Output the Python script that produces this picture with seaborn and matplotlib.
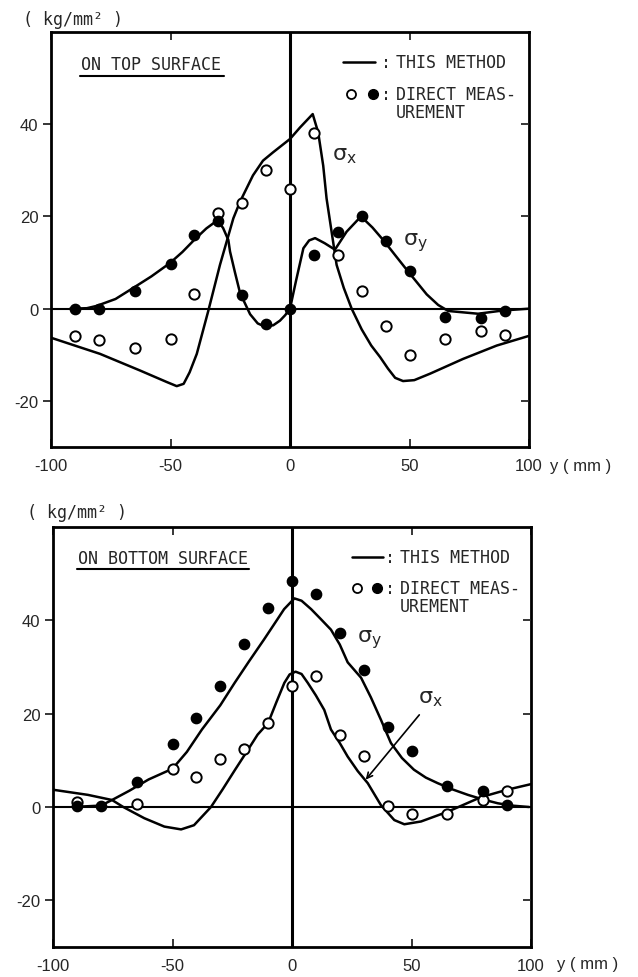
import numpy as np
import pandas as pd
import matplotlib
matplotlib.use("Agg")
import matplotlib.pyplot as plt
import seaborn as sns

sns.set_style("white")
plt.rcParams['axes.unicode_minus'] = False
plt.rcParams['font.family'] = ['Liberation Sans', 'DejaVu Sans']
plt.rcParams['mathtext.fontset'] = 'dejavusans'

# ---------------- data: top surface ----------------
pts_x = [-90, -80, -65, -50, -40, -30, -20, -10, 0, 10, 20, 30, 40, 50, 65, 80, 90]
top_sy_meas = [0, 0, 3.9, 9.7, 16, 19, 3, -3.4, 0, 11.6, 16.7, 20, 14.6, 8.2, -1.7, -2.1, -0.4]
top_sx_meas = [-5.9, -6.8, -8.6, -6.5, 3.1, 20.8, 23, 30, 26, 38, 11.7, 3.8, -3.7, -10, -6.6, -4.8, -5.7]

top_sx_curve_x = [-100, -79.5, -62.8, -51.6, -47.4, -44.5, -42, -39, -34.2, -29.3, -23.7, -20.9, -15.5,
                  -11.3, -7.1, 0, 4.2, 9.5, 11.8, 13.9, 15.3, 17.4, 19.5, 22.5, 25.8, 30, 34,
                  37.7, 41, 44, 47.3, 52, 58.6, 72.4, 86.5, 100]
top_sx_curve_y = [-6.3, -9.8, -13.4, -15.9, -16.8, -16.3, -13.8, -9.8, -0.5, 9.5, 19.6, 23.2, 28.9,
                  32.1, 33.9, 36.8, 39.3, 42.2, 38.2, 31, 23.9, 16.7, 9.5, 4.5, 0, -4.5, -8,
                  -10.5, -13, -15, -15.7, -15.5, -14.1, -10.9, -8, -5.9]

top_sy_curve_x = [-92, -85, -80.9, -73, -65.6, -58, -50.2, -45, -40.1, -35, -32.1, -30.4, -28,
                  -25.8, -25.1, -23, -20.9, -16.7, -13.5, -10.5, -7, -4.2, -2, 0, 2.5, 5.6,
                  8, 10.5, 14.5, 18.8, 23.7, 29.7, 34.5, 39.3, 44, 49.2, 57.2, 62, 66.2,
                  78.7, 89, 100]
top_sy_curve_y = [0, 0.1, 0.6, 2.1, 4.5, 7, 9.9, 12.3, 14.9, 17.4, 18.5, 19.2, 17.5,
                  14.9, 12.4, 7.8, 3.4, -1.2, -3.2, -3.9, -3.6, -2.6, -1.4, 0, 6, 13.1,
                  14.8, 15.3, 14.2, 12.8, 16.7, 20, 17.6, 14.7, 11.6, 8.2, 3.1, 0.8, -0.5,
                  -1.1, -0.4, 0]

# ---------------- data: bottom surface ----------------
bot_sy_meas_x = [-90, -80, -65, -50, -40, -30, -20, -10, 0, 10, 20, 30, 40, 50, 65, 80, 90]
bot_sy_meas = [0.2, 0.2, 5.4, 13.5, 19, 26, 35, 42.7, 48.5, 45.6, 37.2, 29.3, 17.2, 11.9, 4.6, 3.5, 0.4]
bot_sx_meas_x = [-90, -65, -50, -40, -30, -20, -10, 0, 10, 20, 30, 40, 50, 65, 80, 90]
bot_sx_meas = [1.1, 0.6, 8.2, 6.5, 10.3, 12.5, 18, 25.9, 28, 15.5, 11, 0.2, -1.5, -1.5, 1.5, 3.4]

bot_sy_curve_x = [-92, -80, -75.3, -68, -60, -50, -44, -37.7, -30, -24, -18, -11.7, -6, -3.3,
                  1, 4, 8, 12, 16.3, 20, 23.3, 28.9, 33, 37.2, 41.4, 46, 51, 56, 61, 67,
                  73.6, 80, 86.1, 92, 99.2]
bot_sy_curve_y = [0, 0.3, 1.5, 3.5, 5.9, 8.2, 11.8, 16.6, 21.8, 26.6, 31.2, 35.9, 40.3, 42.4,
                  44.7, 44.2, 42.4, 40.3, 38, 34.8, 31, 27.7, 23.5, 18.7, 13.7, 10.5, 8, 6.3,
                  5.1, 3.8, 2.6, 1.6, 0.8, 0.3, 0]

bot_sx_curve_x = [-100, -85.4, -75.3, -70.6, -61.8, -53.4, -46.4, -41, -33.9, -29, -23.8, -19,
                  -14.4, -10, -6.5, -3.2, -1, 1.5, 4, 6.6, 10, 13.5, 16.3, 20, 23.3, 27.5,
                  31.7, 37.2, 42.8, 47, 54, 65.2, 79, 90, 100]
bot_sx_curve_y = [3.7, 2.6, 1.5, 0, -2.4, -4.2, -4.8, -3.9, 0, 3.8, 8, 11.8, 15.5, 18, 22.5,
                  26.6, 28.4, 29, 28.5, 26.6, 23.9, 20.8, 16.6, 13.7, 10.8, 7.7, 5.1, 0.4,
                  -2.8, -3.7, -3.1, -1, 2.1, 3.7, 4.9]

x_ticks = [-100, -50, 0, 50, 100]
y_ticks = [-20, 0, 20, 40]

W, H = 638, 978
fig = plt.figure(figsize=(W / 100, H / 100), dpi=100)

MONO = 'DejaVu Sans Mono'


def fx(px):
    return px / W


def fy(py):
    return 1 - py / H


def make_panel(rect, sx_cx, sx_cy, sy_cx, sy_cy, sx_px, sx_py, sy_px, sy_py):
    ax = fig.add_axes(rect)
    ax.set_xlim(-100, 100)
    ax.set_ylim(-30, 60)
    ax.axhline(0, color='black', lw=1.5, zorder=1)
    ax.axvline(0, color='black', lw=2.2, zorder=1)
    d1 = pd.DataFrame({'x': sx_cx, 'y': sx_cy})
    d2 = pd.DataFrame({'x': sy_cx, 'y': sy_cy})
    sns.lineplot(data=d1, x='x', y='y', ax=ax, sort=False, color='black', lw=1.8, zorder=3)
    sns.lineplot(data=d2, x='x', y='y', ax=ax, sort=False, color='black', lw=1.8, zorder=3)
    p1 = pd.DataFrame({'x': sx_px, 'y': sx_py})
    p2 = pd.DataFrame({'x': sy_px, 'y': sy_py})
    sns.scatterplot(data=p1, x='x', y='y', ax=ax, s=55, facecolor='white',
                    edgecolor='black', linewidth=1.4, zorder=4)
    sns.scatterplot(data=p2, x='x', y='y', ax=ax, s=55, color='black',
                    edgecolor='black', linewidth=1.0, zorder=5)
    ax.set_xlabel('')
    ax.set_ylabel('')
    ax.set_xticks(x_ticks)
    ax.set_xticklabels([str(v) for v in x_ticks])
    ax.set_yticks(y_ticks)
    ax.set_yticklabels([str(v) for v in y_ticks])
    ax.tick_params(axis='x', direction='in', top=True, bottom=True, length=6, width=1.3,
                   labelsize=12, pad=8)
    ax.tick_params(axis='y', direction='out', left=True, right=False, length=6, width=1.3,
                   labelsize=12, pad=3)
    for s in ax.spines.values():
        s.set_linewidth(2.0)
        s.set_color('black')
    ax2 = ax.twinx()
    ax2.set_ylim(-30, 60)
    ax2.set_yticks([-20, 20, 40])
    ax2.tick_params(axis='y', direction='in', length=6, width=1.3, labelright=False)
    for s in ax2.spines.values():
        s.set_visible(False)
    return ax


# top panel
ax_top = make_panel([fx(51), fy(448), fx(529 - 51), (448 - 33) / H],
                    top_sx_curve_x, top_sx_curve_y, top_sy_curve_x, top_sy_curve_y,
                    pts_x, top_sx_meas, pts_x, top_sy_meas)
# bottom panel
ax_bot = make_panel([fx(53), fy(948), fx(531 - 53), (948 - 528) / H],
                    bot_sx_curve_x, bot_sx_curve_y, bot_sy_curve_x, bot_sy_curve_y,
                    bot_sx_meas_x, bot_sx_meas, bot_sy_meas_x, bot_sy_meas)


def legend_block(x0_px, y_line_px, y_pts_px, y_ure_px, colon_px, text_px, open_px, fill_px, line_end_px):
    tr = fig.transFigure
    fig.add_artist(plt.Line2D([fx(x0_px), fx(line_end_px)], [fy(y_line_px)] * 2,
                              color='black', lw=1.8, transform=tr))
    fig.text(fx(colon_px), fy(y_line_px), ':', family=MONO, fontsize=12, va='center', ha='center')
    fig.text(fx(text_px), fy(y_line_px), 'THIS METHOD', family=MONO, fontsize=12, va='center')
    fig.add_artist(plt.Line2D([fx(open_px)], [fy(y_pts_px)], marker='o', ms=6.5,
                              mfc='white', mec='black', mew=1.3, transform=tr, ls='none'))
    fig.add_artist(plt.Line2D([fx(fill_px)], [fy(y_pts_px)], marker='o', ms=7,
                              mfc='black', mec='black', transform=tr, ls='none'))
    fig.text(fx(colon_px), fy(y_pts_px), ':', family=MONO, fontsize=12, va='center', ha='center')
    fig.text(fx(text_px), fy(y_pts_px), 'DIRECT MEAS-', family=MONO, fontsize=12, va='center')
    fig.text(fx(text_px), fy(y_ure_px), 'UREMENT', family=MONO, fontsize=12, va='center')


legend_block(343, 63, 95, 113, 386, 396, 351, 373, 375)
legend_block(352, 558, 589, 607, 390, 400, 357, 377, 383)

# surface titles with underline
fig.text(fx(81), fy(65), 'ON TOP SURFACE', family=MONO, fontsize=12, va='center')
fig.add_artist(plt.Line2D([fx(80), fx(224)], [fy(77)] * 2, color='black', lw=1.5,
                          transform=fig.transFigure))
fig.text(fx(78), fy(559), 'ON BOTTOM SURFACE', family=MONO, fontsize=12, va='center')
fig.add_artist(plt.Line2D([fx(77), fx(249)], [fy(570)] * 2, color='black', lw=1.5,
                          transform=fig.transFigure))

# unit labels
fig.text(fx(23), fy(20), '( kg/mm² )', family=MONO, fontsize=12, va='center')
fig.text(fx(27), fy(513), '( kg/mm² )', family=MONO, fontsize=12, va='center')
fig.text(fx(550), fy(467), 'y ( mm )', family='Liberation Sans', fontsize=12, va='center')
fig.text(fx(557), fy(965), 'y ( mm )', family='Liberation Sans', fontsize=12, va='center')

# sigma labels
ax_top.text(23, 33.5, r'$\mathrm{\sigma}_{\mathrm{x}}$', fontsize=16, ha='center', va='center')
ax_top.text(52.6, 14.6, r'$\mathrm{\sigma}_{\mathrm{y}}$', fontsize=16, ha='center', va='center')
ax_bot.text(32.3, 36, r'$\mathrm{\sigma}_{\mathrm{y}}$', fontsize=16, ha='center', va='center')
ax_bot.text(58, 23.5, r'$\mathrm{\sigma}_{\mathrm{x}}$', fontsize=16, ha='center', va='center')
ax_bot.annotate('', xy=(30.1, 5.4), xytext=(54, 20.2),
                arrowprops=dict(arrowstyle='->', color='black', lw=1.2))

fig.savefig('out.png', dpi=100)
